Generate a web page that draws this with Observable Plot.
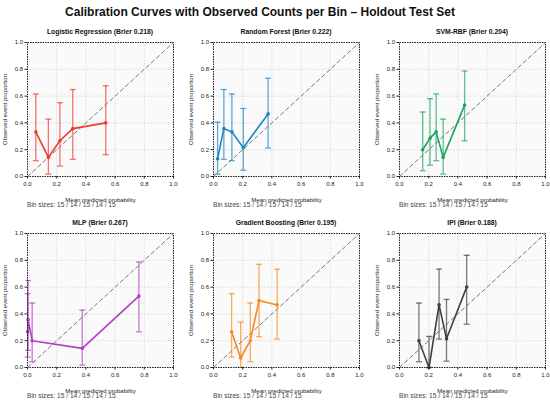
<!DOCTYPE html>
<html>
<head>
<meta charset="utf-8">
<script src="https://cdn.jsdelivr.net/npm/d3@7"></script>
<script src="https://cdn.jsdelivr.net/npm/@observablehq/plot@0.6"></script>
<style>
  html, body { margin: 0; padding: 0; background: #fff; }
  #wrap { position: relative; width: 550px; height: 402px; overflow: hidden; font-family: "Liberation Sans", Arial, sans-serif; }
  .abs { position: absolute; white-space: nowrap; }
  #title { left: 0; width: 520px; top: 4px; text-align: center; font-weight: bold; font-size: 12px; color: #111; line-height: 16px; }
  .ptitle { text-align: center; font-weight: bold; font-size: 6.8px; color: #111; line-height: 8px; }
  .bins { font-size: 6.6px; color: #444; line-height: 8px; }
  svg { overflow: visible; }
</style>
</head>
<body>
<div id="wrap">
  <div id="title" class="abs">Calibration Curves with Observed Counts per Bin – Holdout Test Set</div>
</div>
<script>
const models = ["Logistic Regression", "Random Forest", "SVM-RBF", "MLP", "Gradient Boosting", "IPI"];
const brier = ["0.218", "0.222", "0.204", "0.267", "0.195", "0.188"];
const colors = ["#ef3b2c", "#1a87c4", "#18a55c", "#b03fc2", "#f7891f", "#404040"];
const binSizes = [15, 14, 15, 14, 15];
const tickValues = [0, 0.2, 0.4, 0.6, 0.8, 1.0];

const meanPred = [
  [0.057, 0.143, 0.222, 0.310, 0.536],
  [0.028, 0.071, 0.126, 0.204, 0.374],
  [0.159, 0.209, 0.251, 0.299, 0.446],
  [0.001, 0.004, 0.032, 0.375, 0.763],
  [0.124, 0.186, 0.252, 0.312, 0.436],
  [0.133, 0.202, 0.271, 0.322, 0.460]
];
const observed = [
  [0.333, 0.143, 0.267, 0.357, 0.400],
  [0.133, 0.357, 0.333, 0.214, 0.467],
  [0.200, 0.286, 0.333, 0.143, 0.533],
  [0.267, 0.357, 0.200, 0.143, 0.533],
  [0.267, 0.071, 0.200, 0.500, 0.467],
  [0.200, 0.000, 0.467, 0.214, 0.600]
];
const ciLow = [
  [0.118, 0.018, 0.078, 0.128, 0.163],
  [0.017, 0.128, 0.118, 0.047, 0.213],
  [0.043, 0.084, 0.118, 0.018, 0.266],
  [0.078, 0.128, 0.043, 0.018, 0.266],
  [0.078, 0.002, 0.043, 0.230, 0.213],
  [0.043, 0.000, 0.213, 0.047, 0.323]
];
const ciHigh = [
  [0.616, 0.428, 0.551, 0.649, 0.677],
  [0.405, 0.649, 0.616, 0.508, 0.734],
  [0.481, 0.581, 0.616, 0.428, 0.787],
  [0.551, 0.649, 0.481, 0.428, 0.787],
  [0.551, 0.339, 0.481, 0.770, 0.734],
  [0.481, 0.232, 0.734, 0.508, 0.837]
];

const capSymbol = { draw(ctx) { ctx.moveTo(-3, 0); ctx.lineTo(3, 0); } };
const wrap = document.getElementById("wrap");
const colLeft = [0, 186, 372];
const rowTop = [38, 229];
const ML = 27, PW = 146, PH = 134, MT = 4, MB = 26;

models.forEach((name, i) => {
  const col = i % 3, row = Math.floor(i / 3);
  const color = colors[i];
  const data = meanPred[i].map((x, j) => ({ x, y: observed[i][j], lo: ciLow[i][j], hi: ciHigh[i][j], n: binSizes[j] }));
  const chart = Plot.plot({
    width: ML + PW + 10, height: MT + PH + MB,
    marginLeft: ML, marginRight: 10, marginTop: MT, marginBottom: MB,
    style: { fontFamily: "'Liberation Sans', Arial, sans-serif", fontSize: "6px", background: "transparent", color: "#222" },
    x: { domain: [0, 1] },
    y: { domain: [0, 1] },
    marks: [
      Plot.frame({ fill: "#fafafa", stroke: "none" }),
      Plot.gridX(tickValues, { stroke: "#c8c8c8", strokeOpacity: 1, strokeDasharray: "1.5,1.5", strokeWidth: 0.6 }),
      Plot.gridY(tickValues, { stroke: "#c8c8c8", strokeOpacity: 1, strokeDasharray: "1.5,1.5", strokeWidth: 0.6 }),
      Plot.line([[0, 0], [1, 1]], { stroke: "#7a7a7a", strokeWidth: 1, strokeDasharray: "4,3" }),
      Plot.ruleX(data, { x: "x", y1: "lo", y2: "hi", stroke: color, strokeOpacity: 0.7, strokeWidth: 1.3 }),
      Plot.dot(data, { x: "x", y: "lo", symbol: capSymbol, stroke: color, strokeOpacity: 0.7, strokeWidth: 1.3 }),
      Plot.dot(data, { x: "x", y: "hi", symbol: capSymbol, stroke: color, strokeOpacity: 0.7, strokeWidth: 1.3 }),
      Plot.line(data, { x: "x", y: "y", stroke: color, strokeWidth: 1.6 }),
      Plot.dot(data, { x: "x", y: "y", r: 1.8, fill: color, stroke: "none" }),
      Plot.frame({ stroke: "#222", strokeWidth: 1, strokeDasharray: "1.5,1" }),
      Plot.axisX(tickValues, { tickFormat: d3.format(".1f"), tickSize: 2.5, tickPadding: 3, label: "Mean predicted probability", labelAnchor: "center", labelOffset: 25, labelArrow: "none" }),
      Plot.axisY(tickValues, { tickFormat: d3.format(".1f"), tickSize: 2.5, tickPadding: 2, label: "Observed event proportion", labelAnchor: "center", labelOffset: 25, labelArrow: "none" })
    ]
  });
  chart.style.position = "absolute";
  chart.style.left = colLeft[col] + "px";
  chart.style.top = rowTop[row] + "px";
  wrap.appendChild(chart);

  const t = document.createElement("div");
  t.className = "abs ptitle";
  t.style.left = (colLeft[col] + ML) + "px";
  t.style.width = PW + "px";
  t.style.top = (rowTop[row] + MT - 14) + "px";
  t.textContent = `${name} (Brier ${brier[i]})`;
  wrap.appendChild(t);

  const b = document.createElement("div");
  b.className = "abs bins";
  b.style.left = (colLeft[col] + ML) + "px";
  b.style.top = (rowTop[row] + MT + PH + 25) + "px";
  b.textContent = "Bin sizes: " + binSizes.join(" / ");
  wrap.appendChild(b);
});
</script>
</body>
</html>
